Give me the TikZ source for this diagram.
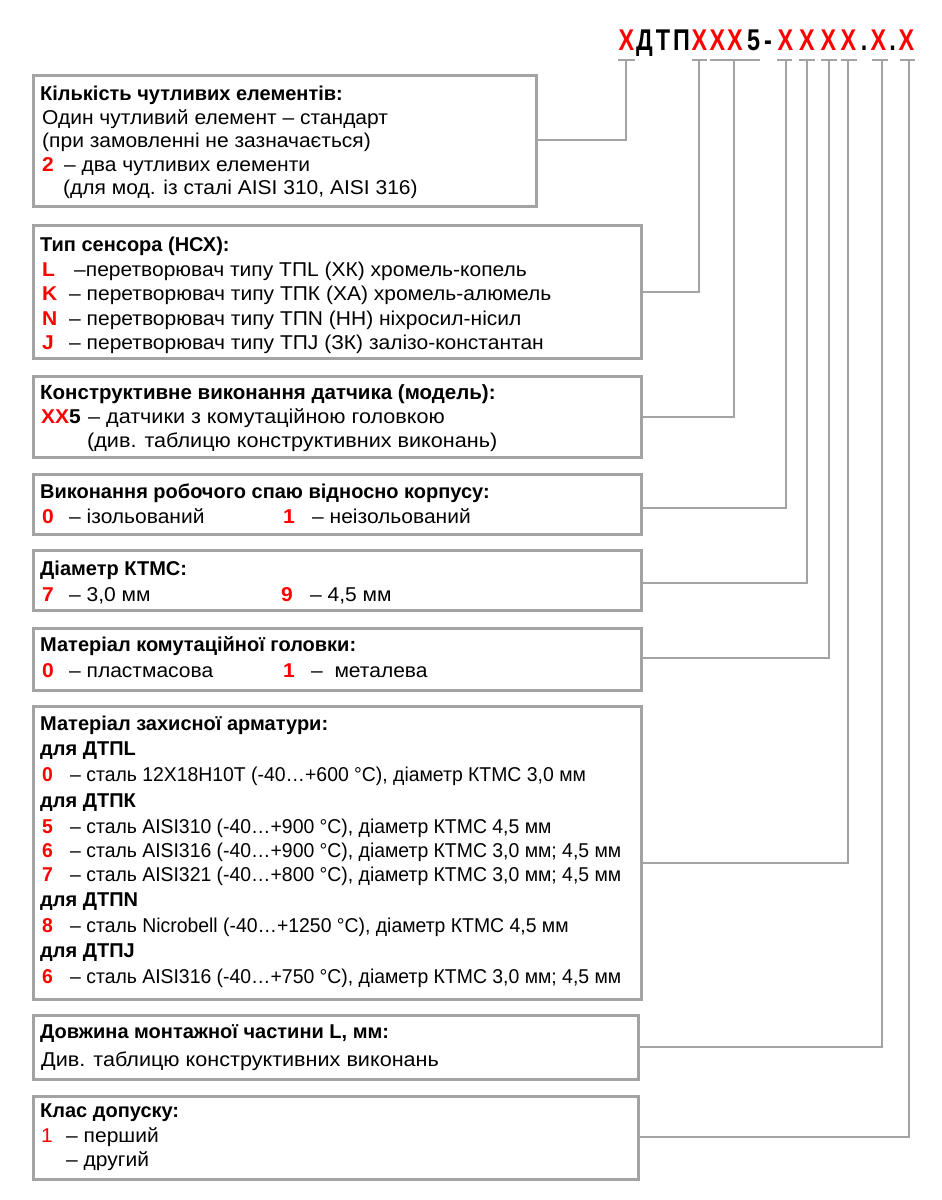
\documentclass[tikz,border=0pt]{standalone}
\usepackage{fontspec}
\setmainfont{Liberation Sans}
\newfontfamily\hdrfont[FakeStretch=0.78]{Liberation Sans}
\newfontfamily\txtA[FakeStretch=1.05]{Liberation Sans}
\newfontfamily\txtB[FakeStretch=0.97]{Liberation Sans}
\newfontfamily\txtC[FakeStretch=1.08]{Liberation Sans}
\definecolor{lg}{HTML}{A3A3A3}
\definecolor{rd}{HTML}{FF0000}
\newcommand{\rb}[1]{\textcolor{rd}{\bfseries #1}}
\begin{document}
\begin{tikzpicture}[x=1pt,y=-1pt,
  box/.style={draw=lg,line width=2.7pt,fill=white,inner sep=0pt,anchor=north west},
  conn/.style={draw=lg,line width=2.6pt},
  hd/.style={anchor=base,inner sep=0pt,font=\hdrfont\fontsize{30}{30}\selectfont\bfseries},
  ln/.style={anchor=base west,inner sep=0pt,font=\txtA\fontsize{20}{20}\selectfont},
  lnb/.style={anchor=base west,inner sep=0pt,font=\txtB\fontsize{20}{20}\selectfont},
  lnc/.style={anchor=base west,inner sep=0pt,font=\txtC\fontsize{20}{20}\selectfont},
  tl/.style={anchor=base west,inner sep=0pt,font=\fontsize{20}{20}\selectfont\bfseries}]
\useasboundingbox[fill=white] (0,0) rectangle (942,1200);
% header
\foreach \c/\x/\col [count=\i] in {Х/626.5/rd,Д/644.5/black,Т/663/black,П/681.5/black,X/699.5/rd,X/717.5/rd,X/735/rd,5/753.5/black,-/768/black,X/785.5/rd,X/807/rd,X/828.5/rd,X/848.5/rd,./864/black,X/878.5/rd,./892.5/black,X/906.5/rd}
  \node[hd,text=\col] (h\i) at (\x,50) {\c};
% boxes
\node[box,minimum width=503,minimum height=131] (b1) at (32,74) {};
\node[box,minimum width=608,minimum height=133] (b2) at (32,224) {};
\node[box,minimum width=608,minimum height=81] (b3) at (32,375) {};
\node[box,minimum width=608,minimum height=60] (b4) at (32,473) {};
\node[box,minimum width=608,minimum height=60] (b5) at (32,549) {};
\node[box,minimum width=608,minimum height=62] (b6) at (32,627) {};
\node[box,minimum width=608,minimum height=293] (b7) at (32,705) {};
\node[box,minimum width=605,minimum height=64] (b8) at (32,1014) {};
\node[box,minimum width=605,minimum height=83] (b9) at (32,1095) {};
% ticks
\foreach \i/\a/\b/\x/\y in {1/618/635/626/140,2/692/707/699/292,3/710/760/734/417,4/777/792/786/508,5/799/815/807/583,6/821/837/829/658,7/841/857/848/863,8/872/888/882/1047,9/900/915/909/1137}{
  \coordinate (ta\i) at (\a,60);
  \coordinate (tb\i) at (\b,60);
  \coordinate (t\i) at (\x,60);
  \coordinate (e\i) at (\x,\y);
  \draw[conn] (ta\i) -- (tb\i);
  \draw[conn] (t\i) -- (e\i) -- (b\i.east |- e\i);
}
% box 1
\node[tl] (l11) at (40,100) {Кількість чутливих елементів:};
\node[ln] (l12) at (42,124) {Один чутливий елемент – стандарт};
\node[ln] (l13) at (42,147) {(при замовленні не зазначається)};
\node[ln] (l14a) at (42,171) {\rb{2}};
\node[ln] (l14) at (64,171) {– два чутливих елементи};
\node[ln] (l15) at (63,194) {(для мод. із сталі AISI 310, AISI 316)};
% box 2
\node[tl] (l21) at (40,251) {Тип сенсора (НСХ):};
\node[ln] (l22a) at (42,276) {\rb{L}};
\node[ln] (l22) at (74,276) {–перетворювач типу ТПL (ХК) хромель-копель};
\node[ln] (l23a) at (42,300) {\rb{K}};
\node[ln] (l23) at (69,300) {– перетворювач типу ТПК (ХА) хромель-алюмель};
\node[ln] (l24a) at (42,325) {\rb{N}};
\node[ln] (l24) at (69,325) {– перетворювач типу ТПN (НН) ніхросил-нісил};
\node[ln] (l25a) at (42,349) {\rb{J}};
\node[ln] (l25) at (69,349) {– перетворювач типу ТПJ (ЗК) залізо-константан};
% box 3
\node[tl,font=\fontsize{20.5}{20.5}\selectfont\bfseries] (l31) at (40,399) {Конструктивне виконання датчика (модель):};
\node[ln] (l32a) at (41,423) {\rb{XX}\textbf{5}};
\node[lnc] (l32) at (88,423) {– датчики з комутаційною головкою};
\node[lnc] (l33) at (87,447) {(див. таблицю конструктивних виконань)};
% box 4
\node[tl] (l41) at (40,498) {Виконання робочого спаю відносно корпусу:};
\node[ln] (l42a) at (42,523) {\rb{0}};
\node[ln] (l42) at (69,523) {– ізольований};
\node[ln] (l42b) at (283,523) {\rb{1}};
\node[ln] (l42c) at (312,523) {– неізольований};
% box 5
\node[tl] (l51) at (40,575) {Діаметр КТМС:};
\node[ln] (l52a) at (42,601) {\rb{7}};
\node[ln] (l52) at (69,601) {– 3,0 мм};
\node[ln] (l52b) at (281,601) {\rb{9}};
\node[ln] (l52c) at (310,601) {– 4,5 мм};
% box 6
\node[tl] (l61) at (40,651) {Матеріал комутаційної головки:};
\node[ln] (l62a) at (42,677) {\rb{0}};
\node[ln] (l62) at (69,677) {– пластмасова};
\node[ln] (l62b) at (283,677) {\rb{1}};
\node[ln] (l62c) at (311,677) {–\ \ металева};
% box 7
\node[tl] (l71) at (40,730) {Матеріал захисної арматури:};
\node[tl] (l72) at (40,755) {для ДТПL};
\node[lnb] (l73a) at (42,781) {\rb{0}};
\node[lnb] (l73) at (70,781) {– сталь 12Х18Н10Т (-40…+600 °С), діаметр КТМС 3,0 мм};
\node[tl] (l74) at (40,807) {для ДТПК};
\node[lnb] (l75a) at (42,833) {\rb{5}};
\node[lnb] (l75) at (70,833) {– сталь AISI310 (-40…+900 °С), діаметр КТМС 4,5 мм};
\node[lnb] (l76a) at (42,857) {\rb{6}};
\node[lnb] (l76) at (70,857) {– сталь AISI316 (-40…+900 °С), діаметр КТМС 3,0 мм; 4,5 мм};
\node[lnb] (l77a) at (42,881) {\rb{7}};
\node[lnb] (l77) at (70,881) {– сталь AISI321 (-40…+800 °С), діаметр КТМС 3,0 мм; 4,5 мм};
\node[tl] (l78) at (40,906) {для ДТПN};
\node[lnb] (l79a) at (42,932) {\rb{8}};
\node[lnb] (l79) at (70,932) {– сталь Nicrobell (-40…+1250 °С), діаметр КТМС 4,5 мм};
\node[tl] (l710) at (40,957) {для ДТПJ};
\node[lnb] (l711a) at (42,983) {\rb{6}};
\node[lnb] (l711) at (70,983) {– сталь AISI316 (-40…+750 °С), діаметр КТМС 3,0 мм; 4,5 мм};
% box 8
\node[tl] (l81) at (40,1038) {Довжина монтажної частини L, мм:};
\node[lnc] (l82) at (41,1066) {Див. таблицю конструктивних виконань};
% box 9
\node[tl] (l91) at (40,1117) {Клас допуску:};
\node[ln,text=rd] (l92a) at (41,1142) {1};
\node[ln] (l92) at (66,1142) {– перший};
\node[ln] (l93) at (66,1166) {– другий};
\end{tikzpicture}
\end{document}
